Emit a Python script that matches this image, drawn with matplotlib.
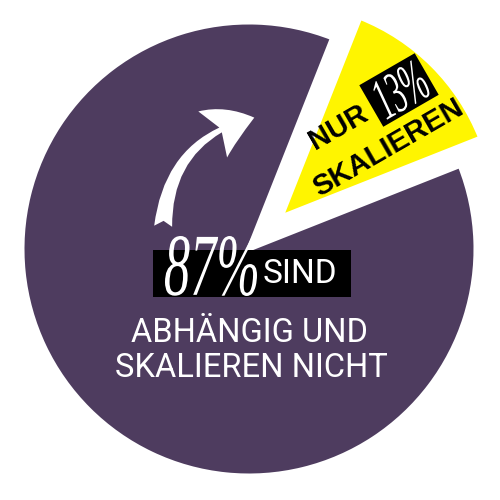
import matplotlib
matplotlib.use("Agg")
import matplotlib.pyplot as plt
from matplotlib.patches import Rectangle, FancyArrowPatch, PathPatch
from matplotlib.textpath import TextPath
from matplotlib.font_manager import FontProperties
from matplotlib.transforms import Affine2D

# data
shares = [13, 87]            # skalieren / abhängig
colors = ["#FFF500", "#4E3C5F"]
big_pct = "87%"
small_pct = "13%"
big_word = "SIND"
big_lines = ["ABHÄNGIG UND", "SKALIEREN NICHT"]
small_lines = ["NUR", "SKALIEREN"]

H = 500  # pixel space, y flipped by hand below
script_font = FontProperties(family="Liberation Serif", style="italic")


def narrow_text(ax, s, cx, cy, height, width, angle=0):
    # tall, squeezed text (stand-in for the hand lettering)
    tp = TextPath((0, 0), s, size=100, prop=script_font)
    ext = tp.get_extents()
    sx = width / ext.width
    sy = height / ext.height
    tr = (Affine2D().translate(-ext.x0 - ext.width / 2, -ext.y0 - ext.height / 2)
          .scale(sx, sy).rotate_deg(angle).translate(cx, cy))
    ax.add_patch(PathPatch(tr.transform_path(tp), facecolor="white", edgecolor="none"))


fig = plt.figure(figsize=(5, 5), dpi=100)
ax = fig.add_axes([0, 0, 1, 1])

start = 45 - shares[0] * 3.6 / 2
wedges, _ = ax.pie(shares, colors=colors, startangle=start, counterclock=True,
                   explode=[45, 0], radius=227, center=(249, H - 249),
                   wedgeprops=dict(edgecolor="white", linewidth=3.6))
wedges[0].set_radius(215)
ax.set_xlim(0, 500)
ax.set_ylim(0, 500)
ax.set_aspect("equal")
ax.axis("off")

# curved arrow
arr = FancyArrowPatch((163, H - 229), (257, H - 117),
                      connectionstyle="arc3,rad=-0.38",
                      arrowstyle="fancy,head_length=0.95,head_width=1.15,tail_width=0.38",
                      mutation_scale=34, color="white", lw=0)
ax.add_patch(arr)

# black band behind 87% SIND
ax.add_patch(Rectangle((153, H - 297), 198, 47, facecolor="black", edgecolor="none"))
narrow_text(ax, big_pct, 211, H - 266, 60, 92)
ax.text(263, H - 283, big_word, color="white", fontsize=24, family="Roboto",
        ha="left", va="baseline")
ax.text(249, H - 342, big_lines[0], color="white", fontsize=23.5, family="Roboto",
        ha="center", va="baseline")
ax.text(251, H - 377, big_lines[1], color="white", fontsize=23.5, family="Roboto",
        ha="center", va="baseline")

# labels in the yellow slice
ax.text(338, H - 127, small_lines[0], color="black", fontsize=21, family="Liberation Sans",
        fontweight="bold", rotation=30, ha="center", va="center", rotation_mode="anchor")
ax.text(388, H - 148, small_lines[1], color="black", fontsize=21, family="Liberation Sans",
        fontweight="bold", rotation=30, ha="center", va="center", rotation_mode="anchor")
ax.add_patch(Rectangle((399 - 32, H - 90 - 24), 64, 48, angle=30, rotation_point="center",
                       facecolor="black", edgecolor="none"))
narrow_text(ax, small_pct, 400, H - 90, 40, 52, angle=30)

fig.savefig("out.png", dpi=100, facecolor="white")
